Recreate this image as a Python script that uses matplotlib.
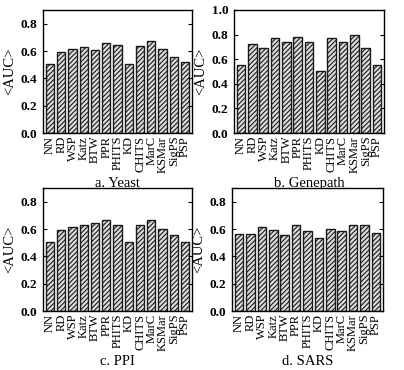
import matplotlib
matplotlib.use("Agg")
import matplotlib.pyplot as plt

plt.rcParams['font.family'] = ['Liberation Serif', 'DejaVu Serif']
plt.rcParams['hatch.linewidth'] = 0.8
plt.rcParams['hatch.color'] = '#505050'

methods = ["NN", "RD", "WSP", "Katz", "BTW", "PPR", "PHITS", "KD", "CHITS", "MarC", "KSMar", "SigPS", "PSP"]
yeast = [0.505, 0.594, 0.613, 0.626, 0.606, 0.658, 0.645, 0.505, 0.638, 0.672, 0.613, 0.557, 0.518]
genepath = [0.549, 0.726, 0.690, 0.769, 0.736, 0.777, 0.736, 0.503, 0.769, 0.736, 0.793, 0.690, 0.549]
ppi = [0.502, 0.590, 0.612, 0.632, 0.641, 0.663, 0.632, 0.502, 0.632, 0.663, 0.602, 0.553, 0.502]
sars = [0.561, 0.561, 0.612, 0.590, 0.553, 0.632, 0.583, 0.532, 0.602, 0.583, 0.632, 0.632, 0.573]

titles = ["a. Yeast", "b. Genepath", "c. PPI", "d. SARS"]
yticks_09 = [0.0, 0.2, 0.4, 0.6, 0.8]
yticks_10 = [0.0, 0.2, 0.4, 0.6, 0.8, 1.0]

W, H = 404, 370
fig = plt.figure(figsize=(W / 100, H / 100), dpi=100)

specs = [
    (yeast, (43, 10, 149, 123), 0.9, yticks_09),
    (genepath, (234, 10, 150, 123), 1.0, yticks_10),
    (ppi, (43, 188, 149, 123), 0.9, yticks_09),
    (sars, (232, 188, 151, 123), 0.9, yticks_09),
]

for (vals, (l, t, w, h), ymax, yt), title in zip(specs, titles):
    ax = fig.add_axes([l / W, 1 - (t + h) / H, w / W, h / H])
    x = list(range(len(methods)))
    ax.bar(x, vals, width=0.74, color='#dcdcdc', edgecolor='#1a1a1a',
           linewidth=1.0, hatch='///////')
    ax.set_xlim(-0.62, len(methods) - 0.38)
    ax.set_ylim(0, ymax)
    ax.set_yticks(yt)
    ax.set_yticklabels([f"{v:.1f}" for v in yt], fontsize=9.5, fontweight='bold')
    ax.set_xticks(x)
    ax.set_xticklabels(methods, rotation=90, fontsize=9)
    ax.tick_params(axis='x', length=0, pad=2)
    ax.tick_params(axis='y', direction='in', length=3, width=0.8, right=True, pad=4)
    for s in ax.spines.values():
        s.set_linewidth(1.0)
    ax.set_ylabel("<AUC>", fontsize=10.5, labelpad=3)
    ax.text(0.5, -0.36, title, transform=ax.transAxes, ha='center', va='top', fontsize=10.5)

fig.savefig("out.png", dpi=100)
